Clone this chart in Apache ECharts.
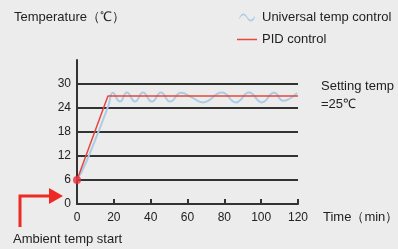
<!DOCTYPE html>
<html>
<head>
<meta charset="utf-8">
<script src="https://cdn.jsdelivr.net/npm/echarts@6/dist/echarts.min.js"></script>
<style>
html,body{margin:0;padding:0;background:#ececec;}
#c{width:398px;height:249px;}
</style>
</head>
<body>
<div id="c"></div>
<script>
// ---- data ----
var xTicks = [0, 20, 40, 60, 80, 100, 120];
var yTicks = [0, 6, 12, 18, 24, 30];
var seriesNames = ['Universal temp control', 'PID control'];
var pidTime =  [0, 16.8, 120];
var pidTemp =  [6, 27, 27];
var uniTime = [0, 5, 17, 19.5, 23.3, 27.1, 31.5, 35.8, 40.7, 45.6, 50.5, 56.5, 62.5, 68.4, 78.7, 86.3, 93.4, 100.4, 107, 112, 119.5];
var uniTemp = [6, 10.5, 24.5, 27.8, 25.6, 27.9, 25.6, 27.9, 25.6, 27.9, 25.6, 27.8, 26.6, 25.4, 27.9, 25.4, 27.9, 25.4, 27.8, 25.8, 27.8];
var startPoint = [[0, 6]];

function zip(a, b) { return a.map(function (v, i) { return [v, b[i]]; }); }

var chart = echarts.init(document.getElementById('c'), null, {renderer: 'canvas'});
var font = 'Liberation Sans, Arial, sans-serif';
chart.setOption({
  backgroundColor: '#ececec',
  animation: false,
  textStyle: {fontFamily: font},
  grid: {left: 77, right: 100, top: 60, bottom: 45},
  legend: {
    orient: 'vertical', left: 232, top: 6, itemWidth: 20, itemHeight: 8, itemGap: 9,
    textStyle: {fontSize: 13, color: '#222', fontFamily: font},
    data: [
      {name: seriesNames[0], icon: 'path://M0,6 C3,0 6,0 9,5 C12,10 15,10 18,4 L18,7 C15,12 12,12 9,7 C6,2 3,2 0,8 Z'},
      {name: seriesNames[1], icon: 'path://M0,0 L0.01,0 L0,0.01 Z M0,3.3 L20,3.3 L20,4.7 L0,4.7 Z M0,8 L0.01,8 L0,7.99 Z'}
    ]
  },
  xAxis: {
    type: 'value', min: 0, max: 120, interval: 20,
    axisLine: {show: true, lineStyle: {color: '#333', width: 2}},
    axisTick: {show: true, inside: true, length: 5, lineStyle: {color: '#333', width: 2}},
    axisLabel: {fontSize: 12, color: '#222', margin: 8, fontFamily: font},
    splitLine: {show: false}
  },
  yAxis: {
    type: 'value', min: 0, max: 36, interval: 6,
    axisLine: {show: true, lineStyle: {color: '#333', width: 2}},
    axisTick: {show: false},
    axisLabel: {fontSize: 12, color: '#222', margin: 6, fontFamily: font,
      formatter: function (v) { return yTicks.indexOf(v) >= 0 ? String(v) : ''; }},
    splitLine: {show: true, lineStyle: {color: ['#333', '#333', '#333', '#333', '#333', '#333', 'rgba(0,0,0,0)'], width: 2}}
  },
  series: [
    {name: seriesNames[0], type: 'line', data: zip(uniTime, uniTemp), smooth: 0.5, symbol: 'none',
      lineStyle: {color: '#a8cde6', width: 2}, itemStyle: {color: '#a8cde6'}, z: 3},
    {name: seriesNames[1], type: 'line', data: zip(pidTime, pidTemp), symbol: 'none',
      lineStyle: {color: '#e8453e', width: 1.5}, itemStyle: {color: '#e8453e'}, z: 4},
    {name: 'start', type: 'scatter', data: startPoint, symbolSize: 8,
      itemStyle: {color: '#e8303a'}, z: 5}
  ],
  graphic: [
    {type: 'text', left: 14, top: 11, style: {text: 'Temperature（℃）', font: '13px ' + font, fill: '#222'}},
    {type: 'text', left: 321, top: 80, style: {text: 'Setting temp', font: '13px ' + font, fill: '#222'}},
    {type: 'text', left: 321, top: 98, style: {text: '=25℃', font: '13px ' + font, fill: '#222'}},
    {type: 'text', left: 323, top: 211, style: {text: 'Time（min）', font: '13px ' + font, fill: '#222'}},
    {type: 'text', left: 13, top: 233, style: {text: 'Ambient temp start', font: '13px ' + font, fill: '#222'}},
    {type: 'polyline', shape: {points: [[20, 227], [20, 196], [51, 196]]}, style: {stroke: '#ee2a24', lineWidth: 3, fill: null}},
    {type: 'polygon', shape: {points: [[49, 188], [63, 196], [49, 204]]}, style: {fill: '#ee2a24'}}
  ]
});
</script>
</body>
</html>
